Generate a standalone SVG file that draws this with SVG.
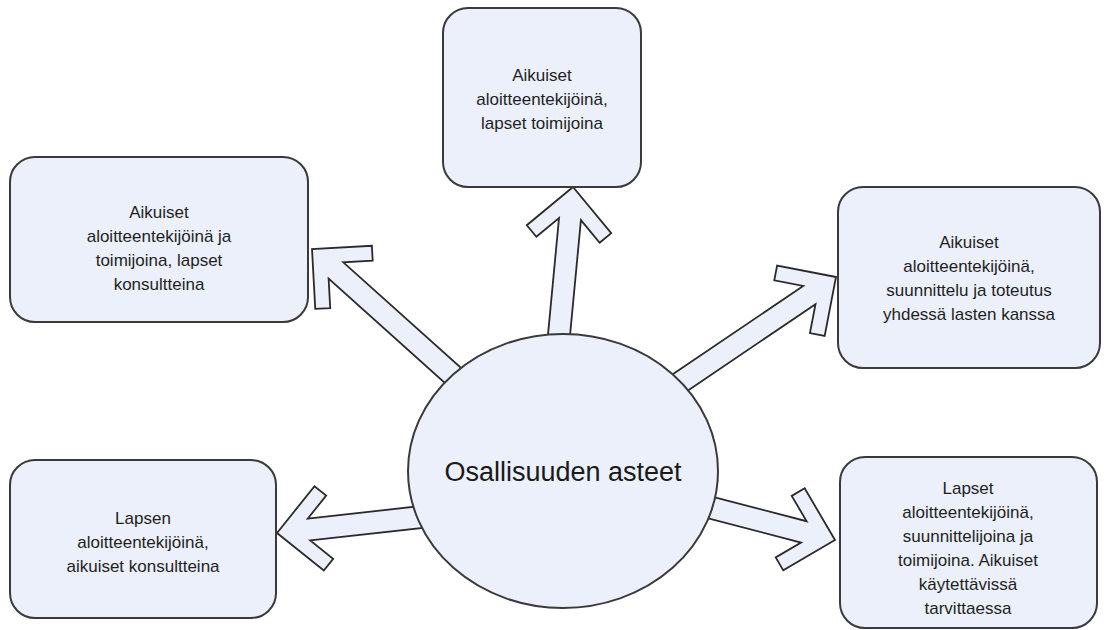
<svg xmlns="http://www.w3.org/2000/svg" width="1105" height="630" viewBox="0 0 1105 630">
  <defs>
    <style>
      .box { fill: #ebf0fa; stroke: #3a3a3a; stroke-width: 2; }
      .arrow { fill: #ebf0fa; stroke: #2a2a2a; stroke-width: 1.8; stroke-linejoin: miter; }
      .t { font-family: "Liberation Sans", Arial, sans-serif; font-size: 17px; fill: #1f1f1f; text-anchor: middle; }
      .c { font-family: "Liberation Sans", Arial, sans-serif; font-size: 27px; fill: #1a1a1a; text-anchor: middle; }
    </style>
  </defs>
  <rect width="1105" height="630" fill="#ffffff"/>

  <g id="connectors">
    <polygon class="arrow" transform="translate(312,249) rotate(221.9)" points="0,0 -42.4,-42.4 -53,-31.8 -32.2,-11 -200,-11 -200,11 -32.2,11 -53,31.8 -42.4,42.4"/>
    <polygon class="arrow" transform="translate(573,187) rotate(-84.6)" points="0,0 -42.4,-42.4 -53,-31.8 -32.2,-11 -170,-11 -170,11 -32.2,11 -53,31.8 -42.4,42.4"/>
    <polygon class="arrow" transform="translate(836,277) rotate(-34.1)" points="0,0 -42.4,-42.4 -53,-31.8 -32.2,-11 -200,-11 -200,11 -32.2,11 -53,31.8 -42.4,42.4"/>
    <polygon class="arrow" transform="translate(277,533) rotate(173.7)" points="0,0 -42.4,-42.4 -53,-31.8 -32.2,-11 -150,-11 -150,11 -32.2,11 -53,31.8 -42.4,42.4"/>
    <polygon class="arrow" transform="translate(835,540) rotate(14.6)" points="0,0 -42.4,-42.4 -53,-31.8 -32.2,-11 -150,-11 -150,11 -32.2,11 -53,31.8 -42.4,42.4"/>
  </g>

  <g id="center">
    <ellipse class="box" cx="563" cy="471" rx="155" ry="137"/>
    <text class="c" x="563" y="481">Osallisuuden asteet</text>
  </g>

  <g id="node-top">
    <rect class="box" x="443" y="8" width="198" height="179" rx="25"/>
    <text class="t" x="542" y="81">Aikuiset</text>
    <text class="t" x="542" y="105">aloitteentekijöinä,</text>
    <text class="t" x="542" y="129">lapset toimijoina</text>
  </g>

  <g id="node-upper-left">
    <rect class="box" x="10" y="157" width="298" height="165" rx="25"/>
    <text class="t" x="159" y="218">Aikuiset</text>
    <text class="t" x="159" y="242">aloitteentekijöinä ja</text>
    <text class="t" x="159" y="266">toimijoina, lapset</text>
    <text class="t" x="159" y="290">konsultteina</text>
  </g>

  <g id="node-upper-right">
    <rect class="box" x="838" y="187" width="262" height="181" rx="25"/>
    <text class="t" x="969" y="248">Aikuiset</text>
    <text class="t" x="969" y="272">aloitteentekijöinä,</text>
    <text class="t" x="969" y="296">suunnittelu ja toteutus</text>
    <text class="t" x="969" y="320">yhdessä lasten kanssa</text>
  </g>

  <g id="node-lower-left">
    <rect class="box" x="10" y="460" width="266" height="158" rx="25"/>
    <text class="t" x="143" y="524">Lapsen</text>
    <text class="t" x="143" y="548">aloitteentekijöinä,</text>
    <text class="t" x="143" y="572">aikuiset konsultteina</text>
  </g>

  <g id="node-lower-right">
    <rect class="box" x="840" y="457" width="257" height="171" rx="25"/>
    <text class="t" x="968" y="494">Lapset</text>
    <text class="t" x="968" y="518">aloitteentekijöinä,</text>
    <text class="t" x="968" y="542">suunnittelijoina ja</text>
    <text class="t" x="968" y="566">toimijoina. Aikuiset</text>
    <text class="t" x="968" y="590">käytettävissä</text>
    <text class="t" x="968" y="614">tarvittaessa</text>
  </g>
</svg>
